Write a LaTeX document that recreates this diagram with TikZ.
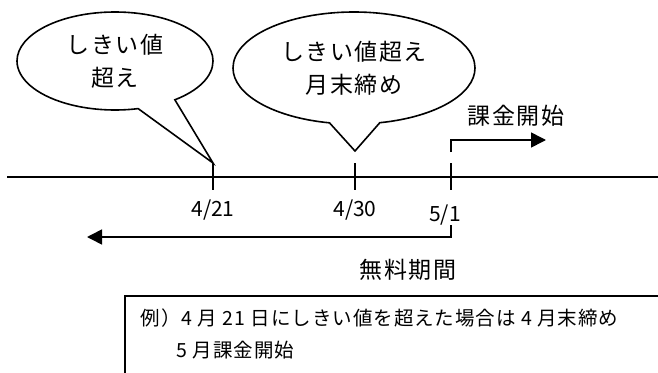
\documentclass[tikz,border=0pt]{standalone}
\usepackage{fontspec}
\setmainfont{Noto Sans CJK JP}
\usetikzlibrary{shapes.callouts,arrows.meta}
\tikzset{
	bubble/.style = {ellipse callout, draw, inner sep=0pt, callout pointer arc=24, align=center,
		font=\fontsize{23}{33}\selectfont\addfontfeatures{LetterSpace=6}},
	datum/.style = {inner sep=0pt, font=\fontsize{21}{24}\selectfont},
	note/.style = {inner sep=0pt, font=\fontsize{23}{26}\selectfont\addfontfeatures{LetterSpace=6}},
	boxtext/.style = {inner sep=0pt, anchor=west, font=\fontsize{19.5}{24}\selectfont\addfontfeatures{LetterSpace=5}},
	flow/.style = {-{Triangle[length=15pt, width=15pt]}},
}
\begin{document}
\begin{tikzpicture}[x=1pt, y=-1pt, line width=1.6pt]
	\useasboundingbox (0,0) rectangle (658,372);
	\clip (0,0) rectangle (658,372);
	
	\coordinate (axisL) at (7,177);
	\coordinate (axisR) at (658,177);
	\draw (axisL) -- (axisR);
	
	\foreach \n/\x in {a/213, b/355, c/451} {
		\coordinate (top\n) at (\x,163);
		\coordinate (bot\n) at (\x,190);
		\draw (top\n) -- (bot\n);
	}
	
	\node[datum] (d421) at (213,210) {4/21};
	\node[datum] (d430) at (355,210) {4/30};
	\node[datum] (d51) at (445,215) {5/1};
	
	\node[bubble, minimum width=196, minimum height=98, callout absolute pointer={(topa)}] (over) at (115,61) {しきい値\\超え};
	\coordinate (tipb) at (355,151);
	\node[bubble, minimum width=242, minimum height=112, callout absolute pointer={(tipb)}] (close) at (354,68) {しきい値超え\\月末締め};
	
	\coordinate (payS) at (451,152);
	\coordinate (payE) at (546,140);
	\draw[flow] (payS) |- (payE);
	\node[note] (pay) at (516,116) {課金開始};
	
	\coordinate (freeS) at (451,225);
	\coordinate (freeE) at (87,237);
	\draw[flow] (freeS) |- (freeE);
	\node[note] (free) at (408,270) {無料期間};
	
	\node[draw, anchor=north west, minimum width=600, minimum height=120] (example) at (124,295) {};
	\node[boxtext] (line1) at (140,318) {例）4 月 21 日にしきい値を超えた場合は 4 月末締め};
	\node[boxtext] (line2) at (176,350) {5 月課金開始};
\end{tikzpicture}
\end{document}
